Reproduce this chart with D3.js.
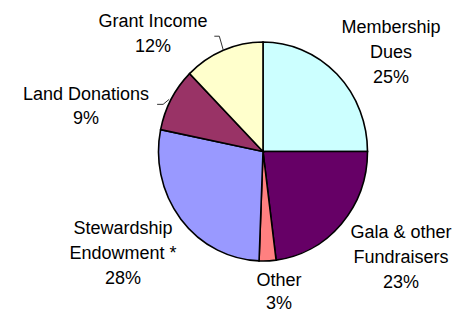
<!DOCTYPE html>
<html>
<head>
<meta charset="utf-8">
<script src="https://cdn.jsdelivr.net/npm/d3@7"></script>
<style>
  body { margin: 0; background: #fff; }
  text { font-family: "Liberation Sans", Arial, sans-serif; font-size: 18px; fill: #000; }
</style>
</head>
<body>
<div id="chart"></div>
<script>
// sources of income, clockwise from 12 o'clock
const categories = ["Membership Dues", "Gala & other Fundraisers", "Other",
                    "Stewardship Endowment *", "Land Donations", "Grant Income"];
const values = [25.0, 23.0, 2.6, 27.6, 9.4, 12.4];
const labelLines = [
    ["Membership", "Dues"],
    ["Gala & other", "Fundraisers"],
    ["Other"],
    ["Stewardship", "Endowment *"],
    ["Land Donations"],
    ["Grant Income"]
];
const colors = ["#ccffff", "#660066", "#ff8080", "#9999ff", "#993366", "#ffffcc"];

const width = 466, height = 314;
const cx = 263, cy = 151.5;
const ry = 109.5, rx = 104.5;

// where each label block sits (centre x, first line y, line step)
const labelPos = [
    { x: 391, y: 27, step: 25 },
    { x: 401, y: 232, step: 25 },
    { x: 279, y: 280, step: 23 },
    { x: 123, y: 228, step: 25 },
    { x: 86, y: 94, step: 24 },
    { x: 153, y: 21, step: 25 }
];

const total = d3.sum(values);
const data = categories.map((c, i) => ({ name: c, value: values[i], lines: labelLines[i], color: colors[i], pos: labelPos[i] }));

const pie = d3.pie().value(d => d.value).sort(null);
const arcs = pie(data);
const arc = d3.arc().innerRadius(0).outerRadius(ry);

const svg = d3.select("#chart").append("svg")
    .attr("width", width)
    .attr("height", height);

svg.append("g")
    .attr("transform", `translate(${cx},${cy}) scale(${rx / ry},1)`)
    .selectAll("path")
    .data(arcs)
    .enter()
    .append("path")
    .attr("d", arc)
    .attr("fill", d => d.data.color)
    .attr("stroke", "#000")
    .attr("stroke-width", 1.6)
    .attr("vector-effect", "non-scaling-stroke");

// point on the rim at the middle of a slice
function rim(d) {
    const a = (d.startAngle + d.endAngle) / 2;
    return [cx + rx * Math.sin(a), cy - ry * Math.cos(a)];
}

// leader lines for the two small slices on the upper left
arcs.filter(d => d.data.name === "Grant Income" || d.data.name === "Land Donations").forEach(d => {
    const [px, py] = rim(d);
    let pts;
    if (d.data.name === "Grant Income") {
        pts = [[px - 9, py - 14], [px - 4, py - 14], [px, py]];
    } else {
        pts = [[px - 14, py + 5], [px - 8, py + 5], [px - 2, py]];
    }
    svg.append("path")
        .attr("d", d3.line()(pts))
        .attr("fill", "none")
        .attr("stroke", "#333")
        .attr("stroke-width", 1);
});

const labels = svg.selectAll(".label")
    .data(arcs)
    .enter()
    .append("text")
    .attr("class", "label")
    .attr("text-anchor", "middle");

labels.each(function (d) {
    const t = d3.select(this);
    const lines = d.data.lines.concat([`${Math.round(d.data.value / total * 100)}%`]);
    lines.forEach((ln, i) => {
        t.append("tspan")
            .attr("x", d.data.pos.x)
            .attr("y", d.data.pos.y + i * d.data.pos.step)
            .attr("dy", "0.35em")
            .text(ln);
    });
});
</script>
</body>
</html>
